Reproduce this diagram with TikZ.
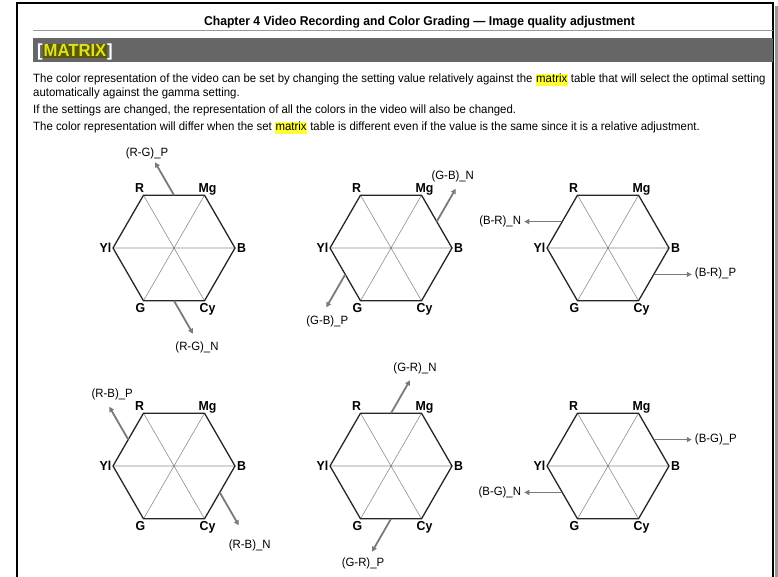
\documentclass[tikz,border=0pt]{standalone}
\usepackage{fontspec}
\setmainfont{Liberation Sans}
\newfontfamily\narrowfont[FakeStretch=0.95, Ligatures=TeX]{Liberation Sans}
\usetikzlibrary{calc,arrows.meta}
\definecolor{bargrey}{HTML}{666666}
\definecolor{arrowgrey}{HTML}{7A7A7A}
\definecolor{diaggrey}{HTML}{8C8C8C}
\definecolor{olivehl}{HTML}{5A5A05}
\definecolor{yellowtxt}{HTML}{E0E020}
\definecolor{hlyellow}{HTML}{FFFF33}
\newcommand{\hlword}[1]{{\setlength{\fboxsep}{0.5pt}\colorbox{hlyellow}{\vphantom{Mg}#1}}}
\tikzset{
  hexedge/.style={line width=1.3pt, black!85},
  hexdiag/.style={line width=0.6pt, diaggrey},
  vlabel/.style={font=\narrowfont\bfseries\fontsize{13}{14}\selectfont, inner sep=0pt},
  axlabel/.style={font=\narrowfont\fontsize{12}{13}\selectfont, inner sep=0pt},
  shiftarrow/.style={line width=1.8pt, arrowgrey, -{Triangle[length=5pt,width=5pt]}},
  bodytext/.style={font=\narrowfont\fontsize{12}{14}\selectfont, anchor=base west, inner sep=0pt}
}
\begin{document}
\begin{tikzpicture}[x=1pt, y=1pt]
	\useasboundingbox (0,0) rectangle (778,577);
	% page frame and header
	\draw[line width=3pt, black!40] (776.5,0) -- (776.5,571);
	\draw[line width=2pt] (17,0) -- (17,574) -- (773,574) -- (773,0);
	\node[font=\narrowfont\bfseries\fontsize{12.8}{14}\selectfont, anchor=base, inner sep=0pt] (title) at (419.5,551) {Chapter 4 Video Recording and Color Grading --- Image quality adjustment};
	\draw[black!40, line width=0.8pt] (33,547) -- (773,547);
	\fill[bargrey] (33,515) rectangle (773,539);
	\node[font=\narrowfont\bfseries\fontsize{17.5}{18}\selectfont, text=white, anchor=base west, inner sep=0pt] (head) at (37,520)
		{[{\setlength{\fboxsep}{1pt}\colorbox{olivehl}{\color{yellowtxt}MATRIX}}]};
	% text
	\node[bodytext] (line1) at (33,494) {The color representation of the video can be set by changing the setting value relatively against the \hlword{matrix} table that will select the optimal setting};
	\node[bodytext] (line2) at (33,480) {automatically against the gamma setting.};
	\node[bodytext] (line3) at (33,463) {If the settings are changed, the representation of all the colors in the video will also be changed.};
	\node[bodytext] (line4) at (33,446) {The color representation will differ when the set \hlword{matrix} table is different even if the value is the same since it is a relative adjustment.};
	% hexagons
	\foreach \i/\cx/\cy in {1/174/329, 2/391/329, 3/608/329, 4/174/111, 5/391/111, 6/608/111} {
		\coordinate (c\i) at (\cx,\cy);
		\foreach \v/\a in {B/0, Mg/60, R/120, Yl/180, G/240, Cy/300}
			\coordinate (\v\i) at ($(c\i)+(\a:61)$);
		\draw[hexdiag] (R\i) -- (Cy\i) (Mg\i) -- (G\i) (Yl\i) -- (B\i);
		\draw[hexedge] (B\i) -- (Mg\i) -- (R\i) -- (Yl\i) -- (G\i) -- (Cy\i) -- cycle;
		\node[vlabel, anchor=base] (lR\i) at ($(R\i)+(-4,2.5)$) {R};
		\node[vlabel, anchor=base] (lMg\i) at ($(Mg\i)+(3,2.5)$) {Mg};
		\node[vlabel, anchor=east] (lYl\i) at ($(Yl\i)+(-1.5,0)$) {Yl};
		\node[vlabel, anchor=west] (lB\i) at ($(B\i)+(2,0)$) {B};
		\node[vlabel, anchor=base] (lG\i) at ($(G\i)+(-3,-12)$) {G};
		\node[vlabel, anchor=base] (lCy\i) at ($(Cy\i)+(3,-12)$) {Cy};
	}
	% shift arrows
	\coordinate (s1p) at ($(R1)!0.5!(Mg1)$); \coordinate (t1p) at ($(s1p)+(120:38)$);
	\coordinate (s1n) at ($(G1)!0.5!(Cy1)$); \coordinate (t1n) at ($(s1n)+(300:38)$);
	\draw[shiftarrow] (s1p) -- (t1p); \draw[shiftarrow] (s1n) -- (t1n);
	\node[axlabel] (rgp) at ($(t1p)+(-8,9)$) {(R-G)\_P};
	\node[axlabel] (rgn) at ($(t1n)+(4,-13.5)$) {(R-G)\_N};

	\coordinate (s2n) at ($(Mg2)!0.5!(B2)$); \coordinate (t2n) at ($(s2n)+(60:38)$);
	\coordinate (s2p) at ($(Yl2)!0.5!(G2)$); \coordinate (t2p) at ($(s2p)+(240:38)$);
	\draw[shiftarrow] (s2n) -- (t2n); \draw[shiftarrow] (s2p) -- (t2p);
	\node[axlabel] (gbn) at ($(t2n)+(-3,12.5)$) {(G-B)\_N};
	\node[axlabel] (gbp) at ($(t2p)+(1,-14)$) {(G-B)\_P};

	\coordinate (s3n) at ($(R3)!0.5!(Yl3)$); \coordinate (t3n) at ($(s3n)+(180:38)$);
	\coordinate (s3p) at ($(Cy3)!0.5!(B3)$); \coordinate (t3p) at ($(s3p)+(0:38)$);
	\draw[shiftarrow] (s3n) -- (t3n); \draw[shiftarrow] (s3p) -- (t3p);
	\node[axlabel, anchor=east] (brn) at ($(t3n)+(-3,0)$) {(B-R)\_N};
	\node[axlabel, anchor=west] (brp) at ($(t3p)+(3,1.5)$) {(B-R)\_P};

	\coordinate (s4p) at ($(R4)!0.5!(Yl4)$); \coordinate (t4p) at ($(s4p)+(120:38)$);
	\coordinate (s4n) at ($(Cy4)!0.5!(B4)$); \coordinate (t4n) at ($(s4n)+(300:38)$);
	\draw[shiftarrow] (s4p) -- (t4p); \draw[shiftarrow] (s4n) -- (t4n);
	\node[axlabel] (rbp) at ($(t4p)+(3,12)$) {(R-B)\_P};
	\node[axlabel] (rbn) at ($(t4n)+(11,-20)$) {(R-B)\_N};

	\coordinate (s5n) at ($(R5)!0.5!(Mg5)$); \coordinate (t5n) at ($(s5n)+(60:38)$);
	\coordinate (s5p) at ($(G5)!0.5!(Cy5)$); \coordinate (t5p) at ($(s5p)+(240:38)$);
	\draw[shiftarrow] (s5n) -- (t5n); \draw[shiftarrow] (s5p) -- (t5p);
	\node[axlabel] (grn) at ($(t5n)+(5,11.5)$) {(G-R)\_N};
	\node[axlabel] (grp) at ($(t5p)+(-9,-11.5)$) {(G-R)\_P};

	\coordinate (s6p) at ($(Mg6)!0.5!(B6)$); \coordinate (t6p) at ($(s6p)+(0:38)$);
	\coordinate (s6n) at ($(Yl6)!0.5!(G6)$); \coordinate (t6n) at ($(s6n)+(180:38)$);
	\draw[shiftarrow] (s6p) -- (t6p); \draw[shiftarrow] (s6n) -- (t6n);
	\node[axlabel, anchor=west] (bgp) at ($(t6p)+(3,0)$) {(B-G)\_P};
	\node[axlabel, anchor=east] (bgn) at ($(t6n)+(-3,0)$) {(B-G)\_N};
\end{tikzpicture}
\end{document}
